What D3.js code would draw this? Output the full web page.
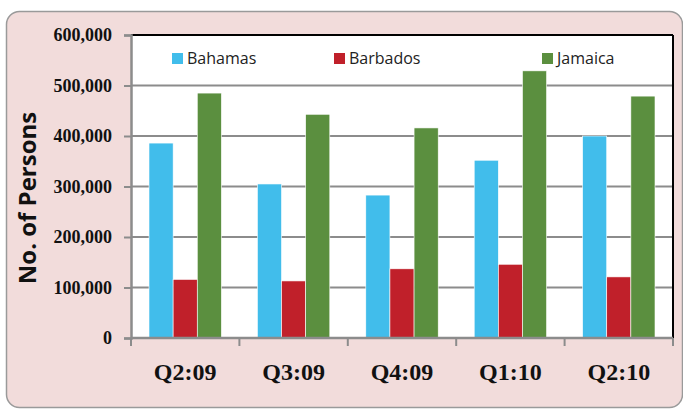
<!DOCTYPE html>
<html>
<head>
<meta charset="utf-8">
<script src="https://cdn.jsdelivr.net/npm/d3@7"></script>
<style>
  body { margin: 0; background: #ffffff; }
  svg { display: block; }
</style>
</head>
<body>
<div id="chart"></div>
<script>
// data
var quarters = ["Q2:09", "Q3:09", "Q4:09", "Q1:10", "Q2:10"];
var countries = ["Bahamas", "Barbados", "Jamaica"];
var bahamas = [386000, 305000, 283000, 352000, 400000];
var barbados = [116000, 113000, 137000, 146000, 121000];
var jamaica = [485000, 443000, 416000, 529000, 479000];
var yTicks = [0, 100000, 200000, 300000, 400000, 500000, 600000];
var colors = ["#41bdeb", "#c0202a", "#5b8f3f"];

var series = [bahamas, barbados, jamaica];

var W = 683, H = 409;
var margin = {top: 35, right: 10, bottom: 71, left: 131};
var width = 673 - margin.left, height = 338 - margin.top;

var svg = d3.select("#chart").append("svg")
  .attr("width", W).attr("height", H);

// pink panel
svg.append("rect")
  .attr("x", 6.5).attr("y", 11.5)
  .attr("width", 676).attr("height", 396)
  .attr("rx", 13)
  .style("fill", "#f2dcdb")
  .style("stroke", "#9a9a9a")
  .style("stroke-width", 1.5);

var g = svg.append("g")
  .attr("transform", "translate(" + margin.left + "," + margin.top + ")");

var x0 = d3.scaleBand().domain(quarters).range([0, width]).paddingInner(0).paddingOuter(0);
var x1 = d3.scaleBand().domain(countries).range([18, x0.bandwidth() - 18]);
var y = d3.scaleLinear().domain([0, 600000]).range([height, 0]);

// plot area
g.append("rect")
  .attr("width", width).attr("height", height)
  .style("fill", "#ffffff");

// gridlines
g.selectAll(".grid").data(yTicks.slice(1, -1)).enter().append("line")
  .attr("x1", 0).attr("x2", width)
  .attr("y1", function(d) { return y(d); })
  .attr("y2", function(d) { return y(d); })
  .style("stroke", "#8c8c8c").style("stroke-width", 2);

// bars
var groups = g.selectAll(".grp").data(quarters).enter().append("g")
  .attr("transform", function(d) { return "translate(" + x0(d) + ",0)"; });

groups.selectAll("rect")
  .data(function(d, i) { return series.map(function(s, j) { return {c: countries[j], v: s[i], k: j}; }); })
  .enter().append("rect")
  .attr("x", function(d) { return x1(d.c); })
  .attr("width", x1.bandwidth())
  .attr("y", function(d) { return y(d.v); })
  .attr("height", function(d) { return height - y(d.v); })
  .style("fill", function(d) { return colors[d.k]; })
  .style("stroke", "#ffffff").style("stroke-width", 0.6);

// top and right frame
g.append("line").attr("x1", 0).attr("x2", width).attr("y1", 0).attr("y2", 0)
  .style("stroke", "#000").style("stroke-width", 2);
g.append("line").attr("x1", width).attr("x2", width).attr("y1", 0).attr("y2", height)
  .style("stroke", "#000").style("stroke-width", 2);

// y axis
var yAxis = g.append("g")
  .call(d3.axisLeft(y).tickValues(yTicks).tickSize(7).tickPadding(12)
    .tickFormat(d3.format(",")));
yAxis.select(".domain").style("stroke", "#8c8c8c").style("stroke-width", 2.5);
yAxis.selectAll(".tick line").style("stroke", "#8c8c8c").style("stroke-width", 2);
yAxis.selectAll("text")
  .style("font-family", "'Liberation Serif', serif")
  .style("font-weight", "bold")
  .style("font-size", "18px")
  .style("fill", "#111");

// x axis
var xAxis = g.append("g")
  .attr("transform", "translate(0," + height + ")")
  .call(d3.axisBottom(x0).tickSize(0).tickPadding(25));
xAxis.select(".domain").remove();
xAxis.append("line").attr("x1", 0).attr("x2", width)
  .style("stroke", "#8c8c8c").style("stroke-width", 2.5);
xAxis.selectAll(".edge").data(d3.range(quarters.length + 1)).enter().append("line")
  .attr("x1", function(i) { return i * x0.step(); })
  .attr("x2", function(i) { return i * x0.step(); })
  .attr("y1", 0).attr("y2", 8)
  .style("stroke", "#8c8c8c").style("stroke-width", 2);
xAxis.selectAll(".tick text")
  .style("font-family", "'Liberation Serif', serif")
  .style("font-weight", "bold")
  .style("font-size", "24px")
  .style("fill", "#111");

// y title
svg.append("text")
  .attr("transform", "translate(36,198) rotate(-90)")
  .attr("text-anchor", "middle")
  .style("font-family", "'Open Sans', sans-serif")
  .style("font-weight", "bold")
  .style("font-size", "24px")
  .style("fill", "#111")
  .text("No. of Persons");

// legend
var legendX = [172, 334, 542];
var legend = svg.selectAll(".leg").data(countries).enter().append("g")
  .attr("transform", function(d, i) { return "translate(" + legendX[i] + ",53)"; });
legend.append("rect").attr("width", 11).attr("height", 11)
  .style("fill", function(d, i) { return colors[i]; });
legend.append("text").attr("x", 15).attr("y", 11)
  .style("font-family", "'Open Sans', sans-serif")
  .style("font-size", "16px")
  .style("fill", "#222")
  .text(function(d) { return d; });
</script>
</body>
</html>
